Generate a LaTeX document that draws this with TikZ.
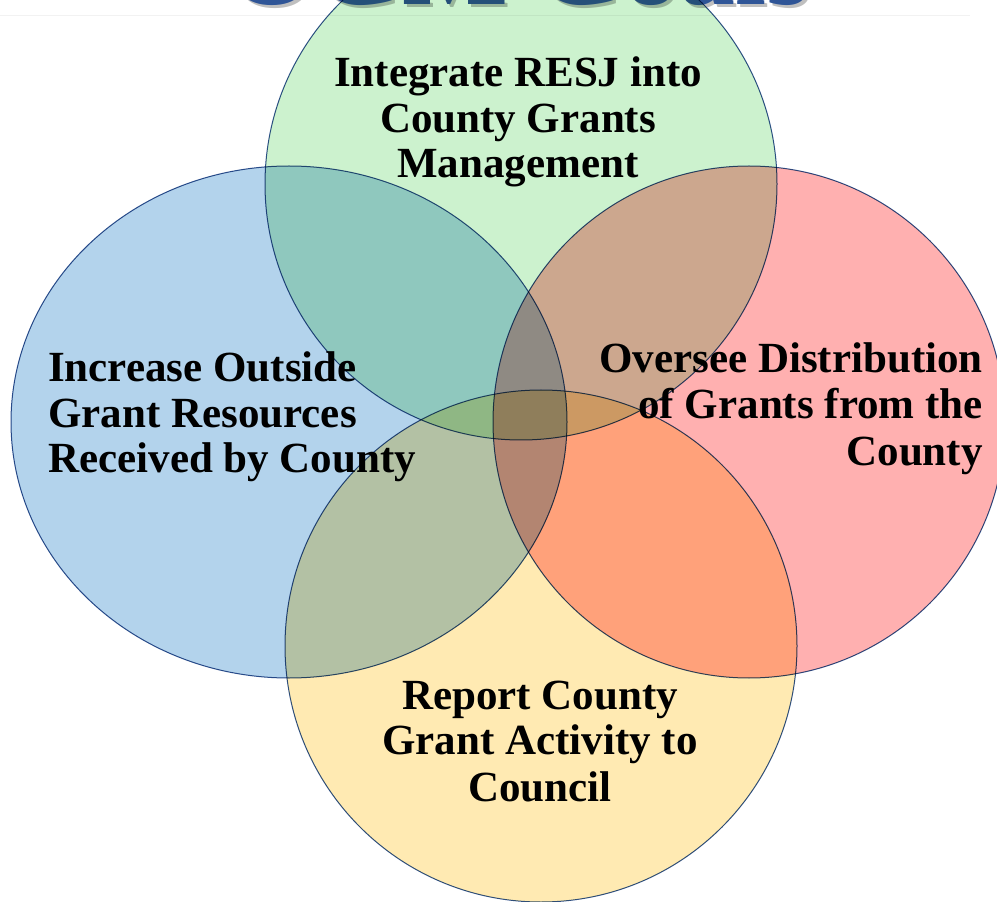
\documentclass[tikz,border=0pt]{standalone}
\usepackage{fontspec}
\setmainfont{Liberation Serif}
\definecolor{cblue}{HTML}{B3D3EC}
\definecolor{cgreen}{HTML}{CCF2CE}
\definecolor{cred}{HTML}{FFB0B0}
\definecolor{cyellow}{HTML}{FFEAB2}
\definecolor{edge}{HTML}{2F528F}
\definecolor{titleblue}{HTML}{2F5597}
\definecolor{rulegray}{HTML}{F2F2F2}
\tikzset{
  venn/.style={draw=edge, line width=0.75pt, blend mode=multiply},
  lbl/.style={font=\fontsize{32.25pt}{34.5pt}\selectfont\bfseries, inner sep=0pt, text=black},
  ttl/.style={font=\fontsize{84pt}{90pt}\selectfont\bfseries, inner sep=0pt}
}
\begin{document}
\begin{tikzpicture}[x=0.75pt,y=-0.75pt]
\useasboundingbox (0,0) rectangle (997,902);
\fill[white] (0,0) rectangle (997,902);
% title (cropped at top)
\node[ttl, text=gray, opacity=0.5, anchor=base] (titleshadow) at (522,8) {OGM Goals};
\node[ttl, text=titleblue, anchor=base] (title) at (519,5) {OGM Goals};
\draw[rulegray, line width=0.75pt] (0,16) -- (970,16);
% circles
\path[venn, fill=cgreen] (521,184) circle [radius=256];
\path[venn, fill=cblue] (289,422) ellipse [x radius=278, y radius=256];
\path[venn, fill=cred] (749,422) circle [radius=256];
\path[venn, fill=cyellow] (541,646) circle [radius=256];
% labels
\node[lbl, anchor=base] (g1) at (518,87) {Integrate RESJ into};
\node[lbl, anchor=base] (g2) at (518,133) {County Grants};
\node[lbl, anchor=base] (g3) at (518,178) {Management};
\node[lbl, anchor=base west] (b1) at (48,382) {Increase Outside};
\node[lbl, anchor=base west] (b2) at (48,428) {Grant Resources};
\node[lbl, anchor=base west] (b3) at (48,473) {Received by County};
\node[lbl, anchor=base east] (r1) at (983,373) {Oversee Distribution};
\node[lbl, anchor=base east] (r2) at (983,419) {of Grants from the};
\node[lbl, anchor=base east] (r3) at (983,465) {County};
\node[lbl, anchor=base] (y1) at (540,709) {Report County};
\node[lbl, anchor=base] (y2) at (540,754) {Grant Activity to};
\node[lbl, anchor=base] (y3) at (540,801) {Council};
\end{tikzpicture}
\end{document}
